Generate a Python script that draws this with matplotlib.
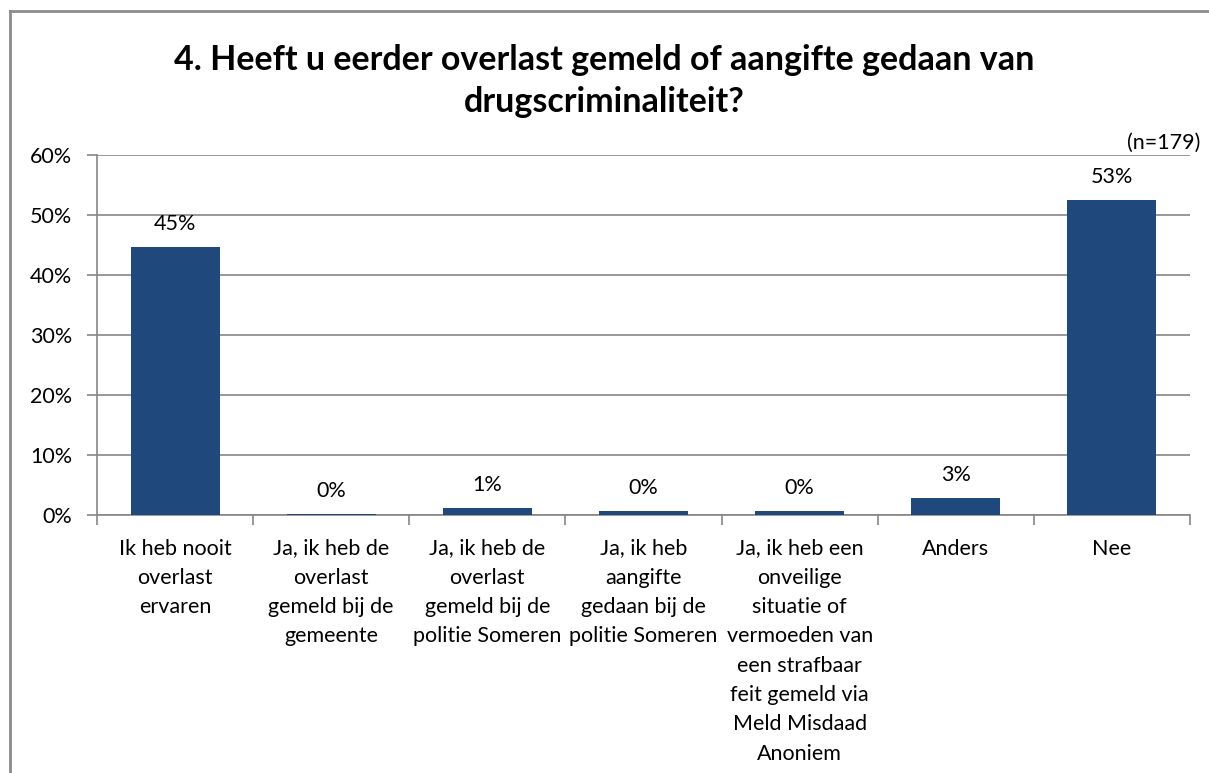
import numpy as np
import matplotlib.pyplot as plt
from matplotlib.lines import Line2D
from matplotlib.ticker import PercentFormatter

plt.rcParams['font.family'] = ['Lato', 'DejaVu Sans']

categories = [
    "Ik heb nooit\noverlast\nervaren",
    "Ja, ik heb de\noverlast\ngemeld bij de\ngemeente",
    "Ja, ik heb de\noverlast\ngemeld bij de\npolitie Someren",
    "Ja, ik heb\naangifte\ngedaan bij de\npolitie Someren",
    "Ja, ik heb een\nonveilige\nsituatie of\nvermoeden van\neen strafbaar\nfeit gemeld via\nMeld Misdaad\nAnoniem",
    "Anders",
    "Nee",
]
values = [44.7, 0.2, 1.1, 0.6, 0.6, 2.8, 52.5]
labels = ["45%", "0%", "1%", "0%", "0%", "3%", "53%"]

fig = plt.figure(figsize=(12.09, 7.73), dpi=100)
ax = fig.add_axes([0.0802, 0.3338, 0.9041, 0.4657])

x = np.arange(len(values))
ax.bar(x, values, width=0.57, color="#1F497D", zorder=3)

for xi, v, lab in zip(x, values, labels):
    ax.text(xi, v + 2.2, lab, ha="center", va="bottom", fontsize=15.5)

ax.set_xlim(-0.5, len(values) - 0.5)
ax.set_ylim(0, 60)
ax.set_yticks(np.arange(0, 61, 10))
ax.yaxis.set_major_formatter(PercentFormatter(decimals=0))
ax.grid(axis="y", color="#868686", linewidth=1.2, zorder=0)

ax.set_xticks(x)
ax.set_xticklabels(categories, fontsize=15.5, linespacing=1.58)
ax.set_xticks(np.arange(-0.5, len(values)), minor=True)
ax.tick_params(axis="x", which="major", length=0, pad=17)
ax.tick_params(axis="x", which="minor", length=7, color="#868686", width=1.2)
ax.tick_params(axis="y", length=7, color="#868686", width=1.2, labelsize=15.5, pad=11)

for side in ["top", "right"]:
    ax.spines[side].set_visible(False)
for side in ["left", "bottom"]:
    ax.spines[side].set_color("#868686")
    ax.spines[side].set_linewidth(1.2)

fig.text(0.5, 0.922, "4. Heeft u eerder overlast gemeld of aangifte gedaan van",
         ha="center", va="center", fontsize=24.5, fontweight="bold")
fig.text(0.5, 0.868, "drugscriminaliteit?",
         ha="center", va="center", fontsize=24.5, fontweight="bold")
fig.text(0.993, 0.815, "(n=179)", ha="right", va="center", fontsize=15.5)

# outer chart frame (left and top edges visible)
fig.add_artist(Line2D([0.0083, 0.0083], [0.0, 0.986], color="#8c8c8c", linewidth=2,
                      transform=fig.transFigure))
fig.add_artist(Line2D([0.0083, 1.0], [0.986, 0.986], color="#8c8c8c", linewidth=2,
                      transform=fig.transFigure))

fig.savefig("out.png", dpi=100)
